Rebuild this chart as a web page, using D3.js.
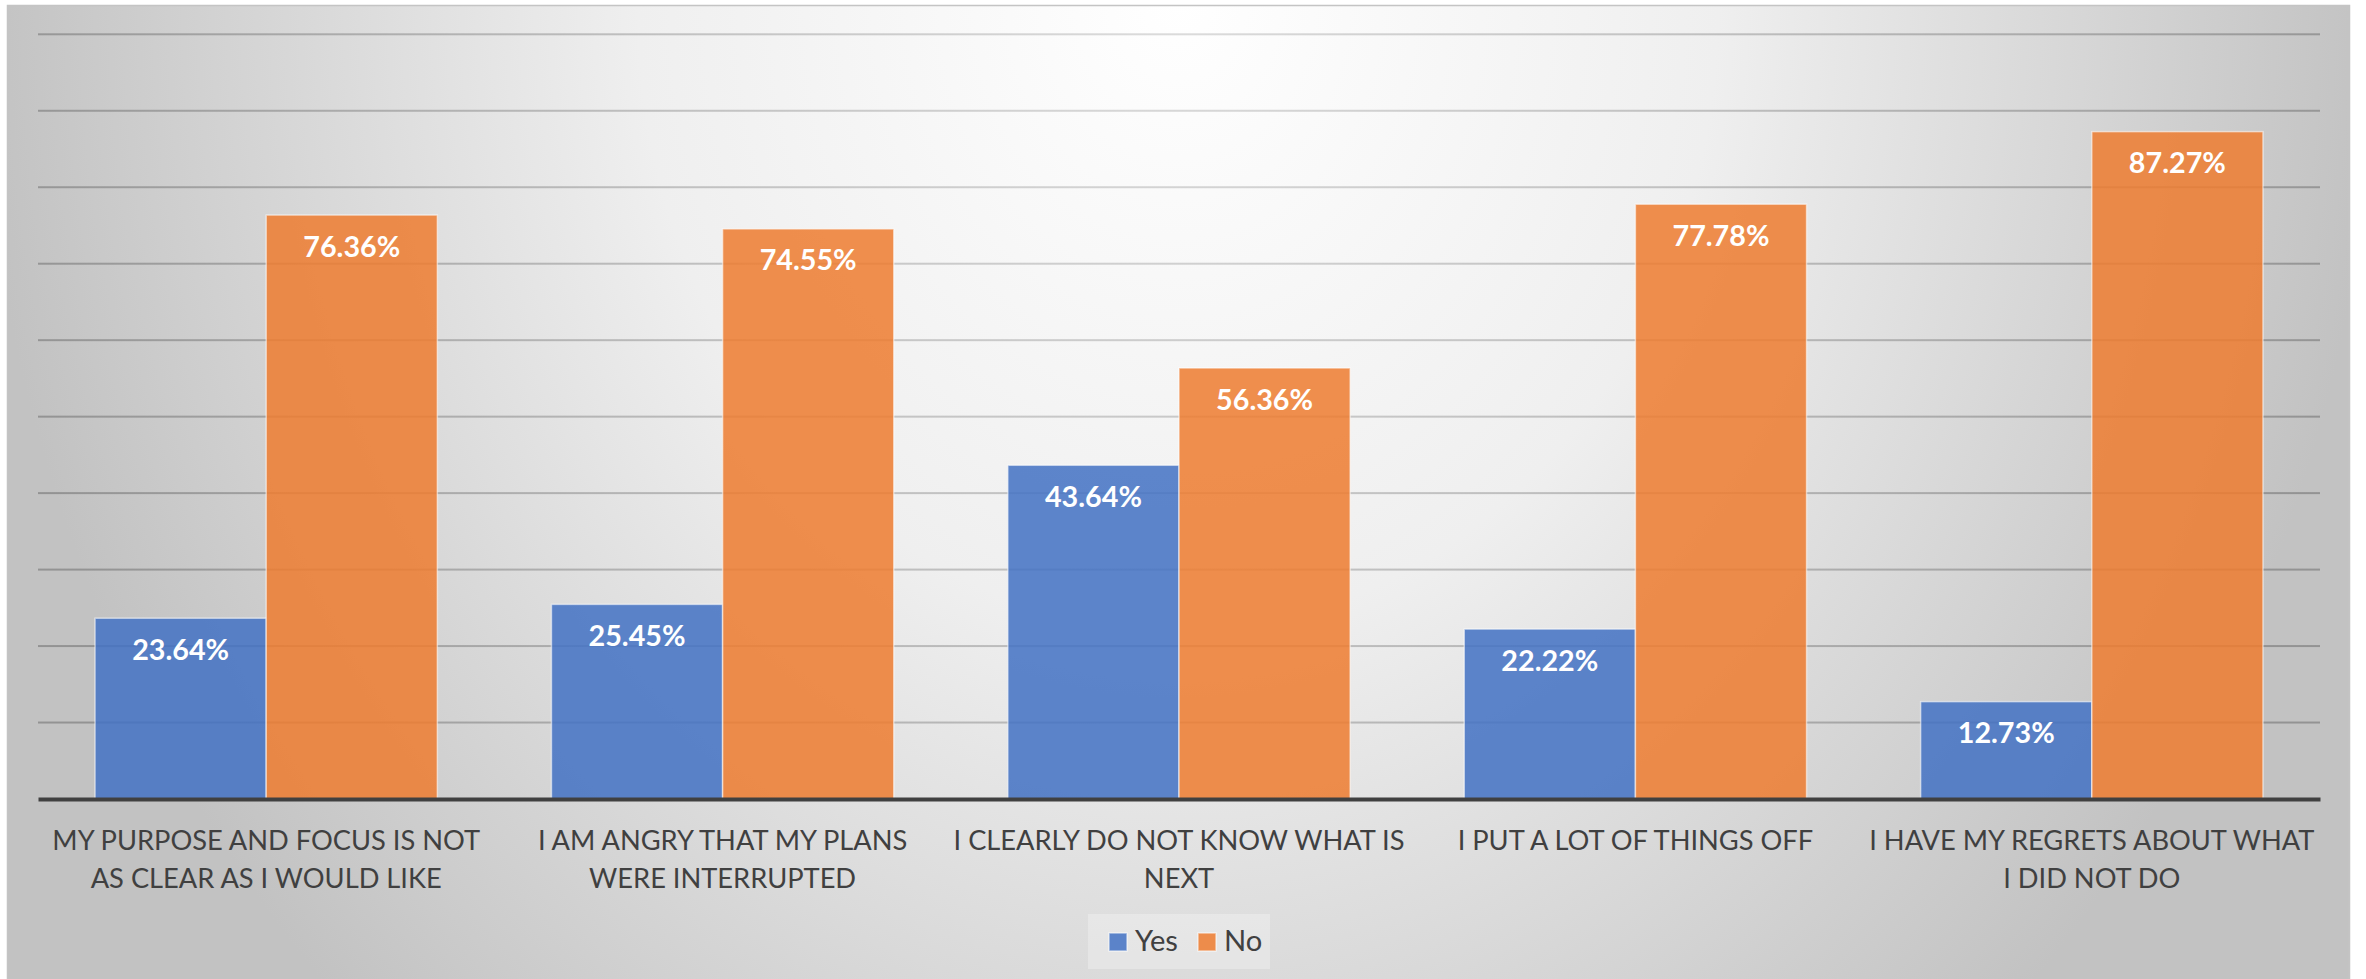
<!DOCTYPE html>
<html>
<head>
<meta charset="utf-8">
<script src="https://cdn.jsdelivr.net/npm/d3@7"></script>
<style>
  html, body { margin: 0; padding: 0; background: #ffffff; }
  svg { display: block; }
</style>
</head>
<body>
<svg id="chart" width="2366" height="979"></svg>
<script>
// ---- data ----
const categories = [
  "MY PURPOSE AND FOCUS IS NOT AS CLEAR AS I WOULD LIKE",
  "I AM ANGRY THAT MY PLANS WERE INTERRUPTED",
  "I CLEARLY DO NOT KNOW WHAT IS NEXT",
  "I PUT A LOT OF THINGS OFF",
  "I HAVE MY REGRETS ABOUT WHAT I DID NOT DO"
];
const categoryLines = [
  ["MY PURPOSE AND FOCUS IS NOT", "AS CLEAR AS I WOULD LIKE"],
  ["I AM ANGRY THAT MY PLANS", "WERE INTERRUPTED"],
  ["I CLEARLY DO NOT KNOW WHAT IS", "NEXT"],
  ["I PUT A LOT OF THINGS OFF"],
  ["I HAVE MY REGRETS ABOUT WHAT", "I DID NOT DO"]
];
const seriesNames = ["Yes", "No"];
const yesValues = [23.64, 25.45, 43.64, 22.22, 12.73];
const noValues  = [76.36, 74.55, 56.36, 77.78, 87.27];
const yTicks = [0, 10, 20, 30, 40, 50, 60, 70, 80, 90, 100];

// ---- setup ----
const W = 2366, H = 979;
const svg = d3.select("#chart");
const FONT = "Lato, 'Open Sans', 'DejaVu Sans', sans-serif";
const colors = { Yes: "#4472C4", No: "#ED7D31" };

function fitSize(text, weight, target) {
  const t = svg.append("text").attr("font-family", FONT).attr("font-weight", weight)
    .attr("font-size", 100).text(text);
  const w = t.node().getComputedTextLength();
  t.remove();
  return 100 * target / w;
}

const defs = svg.append("defs");
function radial(id, stops) {
  const g = defs.append("radialGradient")
    .attr("id", id).attr("gradientUnits", "userSpaceOnUse")
    .attr("cx", 0).attr("cy", 0).attr("r", 1)
    .attr("gradientTransform", "translate(1178,0) scale(1200,1400)");
  stops.forEach(s => g.append("stop").attr("offset", s[0]).attr("stop-color", s[1]));
}
radial("bg", [[0, "#ffffff"], [0.45, "#efefef"], [1, "#c2c2c2"]]);
radial("gridc", [[0, "#dcdcdc"], [0.45, "#bfbfbf"], [1, "#939393"]]);

svg.append("rect")
  .attr("x", 7.5).attr("y", 5.5).attr("width", 2342).attr("height", 980)
  .attr("fill", "url(#bg)").attr("stroke", "#c4c4c4").attr("stroke-width", 1.5);

const plotL = 38, plotR = 2320, plotB = 799, plotT = 34.3;
const x0 = d3.scaleBand().domain(categories).range([plotL, plotR])
  .paddingInner(0.25).paddingOuter(0.125);
const x1 = d3.scaleBand().domain(seriesNames).range([0, x0.bandwidth()]);
const y = d3.scaleLinear().domain([0, 100]).range([plotB, plotT]);

// gridlines (drawn as rects so the userSpace gradient applies to zero-height lines)
const gridVals = yTicks.slice(1);
svg.append("g").selectAll("rect").data(gridVals).join("rect")
  .attr("x", plotL).attr("width", plotR - plotL)
  .attr("y", d => y(d) - 1).attr("height", 2)
  .attr("fill", "url(#gridc)");

// bars
const rows = categories.map((c, i) => ({ cat: c, values: [
  { key: "Yes", value: yesValues[i] }, { key: "No", value: noValues[i] } ] }));

const groups = svg.append("g").selectAll("g").data(rows).join("g")
  .attr("transform", d => `translate(${x0(d.cat)},0)`);

groups.selectAll("rect").data(d => d.values).join("rect")
  .attr("x", d => x1(d.key)).attr("width", x1.bandwidth())
  .attr("y", d => y(d.value)).attr("height", d => y(0) - y(d.value))
  .attr("fill", d => colors[d.key]).attr("fill-opacity", 0.86)
  .attr("stroke", "rgba(255,255,255,0.55)").attr("stroke-width", 1.5);

const fmt = v => d3.format(".2f")(v) + "%";
const valSize = fitSize("43.64%", 700, 97);
groups.selectAll("text.val").data(d => d.values).join("text")
  .attr("class", "val")
  .attr("x", d => x1(d.key) + x1.bandwidth() / 2)
  .attr("y", d => y(d.value) + 41.5)
  .attr("text-anchor", "middle")
  .attr("font-family", FONT).attr("font-weight", 700).attr("font-size", valSize)
  .attr("fill", "#ffffff")
  .text(d => fmt(d.value));

// x axis
const xAxis = svg.append("g").attr("transform", `translate(0,${plotB})`)
  .call(d3.axisBottom(x0).tickSize(0).tickSizeOuter(0).tickFormat(""));
xAxis.select(".domain").attr("stroke", "#404040").attr("stroke-width", 4);

const catSize = fitSize("I CLEARLY DO NOT KNOW WHAT IS", 400, 451);
xAxis.selectAll(".tick").each(function(d, i) {
  const t = d3.select(this).append("text")
    .attr("text-anchor", "middle")
    .attr("font-family", FONT).attr("font-size", catSize).attr("fill", "#404040");
  categoryLines[i].forEach((line, j) => {
    t.append("tspan").attr("x", 0).attr("y", 51 + j * 38).text(line);
  });
});

// legend
const legSize = fitSize("Yes", 400, 43);
const leg = svg.append("g");
leg.append("rect").attr("x", 1088).attr("y", 914).attr("width", 182).attr("height", 55)
  .attr("fill", "rgba(255,255,255,0.28)");
const legX = { Yes: 1109, No: 1198 };
seriesNames.forEach(s => {
  leg.append("rect").attr("x", legX[s]).attr("y", 933).attr("width", 18).attr("height", 18)
    .attr("fill", colors[s]).attr("fill-opacity", 0.86)
    .attr("stroke", "rgba(255,255,255,0.55)").attr("stroke-width", 1.5);
  leg.append("text").attr("x", legX[s] + 26).attr("y", 951)
    .attr("font-family", FONT).attr("font-size", legSize).attr("fill", "#404040")
    .text(s);
});
</script>
</body>
</html>
